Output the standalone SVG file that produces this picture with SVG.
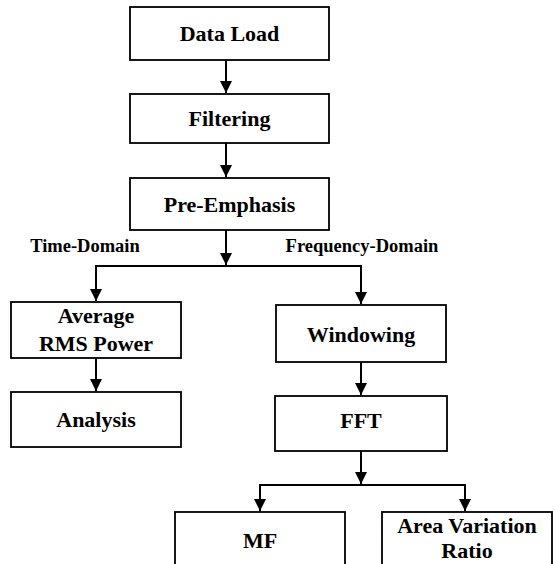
<svg xmlns="http://www.w3.org/2000/svg" width="555" height="564" viewBox="0 0 555 564">
<style>
.box{fill:#fff;stroke:#000;stroke-width:1.8}
.t{font-family:"Liberation Serif","Times New Roman",serif;font-weight:bold;font-size:22px;text-anchor:middle;fill:#000}
.lbl{font-family:"Liberation Serif","Times New Roman",serif;font-weight:bold;font-size:18.5px;text-anchor:middle;fill:#000}
.c{fill:none;stroke:#000;stroke-width:2}
</style>
<defs>
<marker id="ah" markerUnits="userSpaceOnUse" markerWidth="12" markerHeight="12" refX="12" refY="6" orient="auto">
<path d="M0,0 L12,6 L0,12 z" fill="#000"/>
</marker>
</defs>
<rect width="555" height="564" fill="#fff"/>
<g id="connectors">
<line class="c" x1="226" y1="60" x2="226" y2="93" marker-end="url(#ah)"/>
<line class="c" x1="226" y1="143" x2="226" y2="177" marker-end="url(#ah)"/>
<line class="c" x1="226" y1="230" x2="226" y2="265" marker-end="url(#ah)"/>
<polyline class="c" points="96,301 96,266 361,266 361,304"/>
<line class="c" x1="96" y1="266" x2="96" y2="301" marker-end="url(#ah)"/>
<line class="c" x1="361" y1="266" x2="361" y2="304" marker-end="url(#ah)"/>
<line class="c" x1="96" y1="358" x2="96" y2="391" marker-end="url(#ah)"/>
<line class="c" x1="361" y1="362" x2="361" y2="395" marker-end="url(#ah)"/>
<line class="c" x1="361" y1="451" x2="361" y2="484" marker-end="url(#ah)"/>
<polyline class="c" points="260,511 260,485 465,485 465,511"/>
<line class="c" x1="260" y1="485" x2="260" y2="511" marker-end="url(#ah)"/>
<line class="c" x1="465" y1="485" x2="465" y2="511" marker-end="url(#ah)"/>
<text class="lbl" x="85" y="252">Time-Domain</text>
<text class="lbl" x="362" y="252">Frequency-Domain</text>
</g>
<g id="data-load"><rect class="box" x="130" y="7" width="199" height="53"/><text class="t" x="229.5" y="41">Data Load</text></g>
<g id="filtering"><rect class="box" x="130" y="94" width="199" height="49"/><text class="t" x="229.5" y="126">Filtering</text></g>
<g id="pre-emphasis"><rect class="box" x="130" y="178" width="199" height="52"/><text class="t" x="229.5" y="212">Pre-Emphasis</text></g>
<g id="avg-rms"><rect class="box" x="11" y="302" width="170" height="56"/><text class="t" x="96" y="323">Average</text><text class="t" x="96" y="351">RMS Power</text></g>
<g id="analysis"><rect class="box" x="11" y="392" width="170" height="55"/><text class="t" x="96" y="427">Analysis</text></g>
<g id="windowing"><rect class="box" x="276" y="305" width="170" height="57"/><text class="t" x="361" y="342">Windowing</text></g>
<g id="fft"><rect class="box" x="275" y="396" width="172" height="55"/><text class="t" x="361" y="428">FFT</text></g>
<g id="mf"><rect class="box" x="175" y="512" width="170" height="60"/><text class="t" x="260" y="548">MF</text></g>
<g id="area-variation"><rect class="box" x="382" y="512" width="170" height="60"/><text class="t" x="467" y="533">Area Variation</text><text class="t" x="467" y="558">Ratio</text></g>
</svg>
